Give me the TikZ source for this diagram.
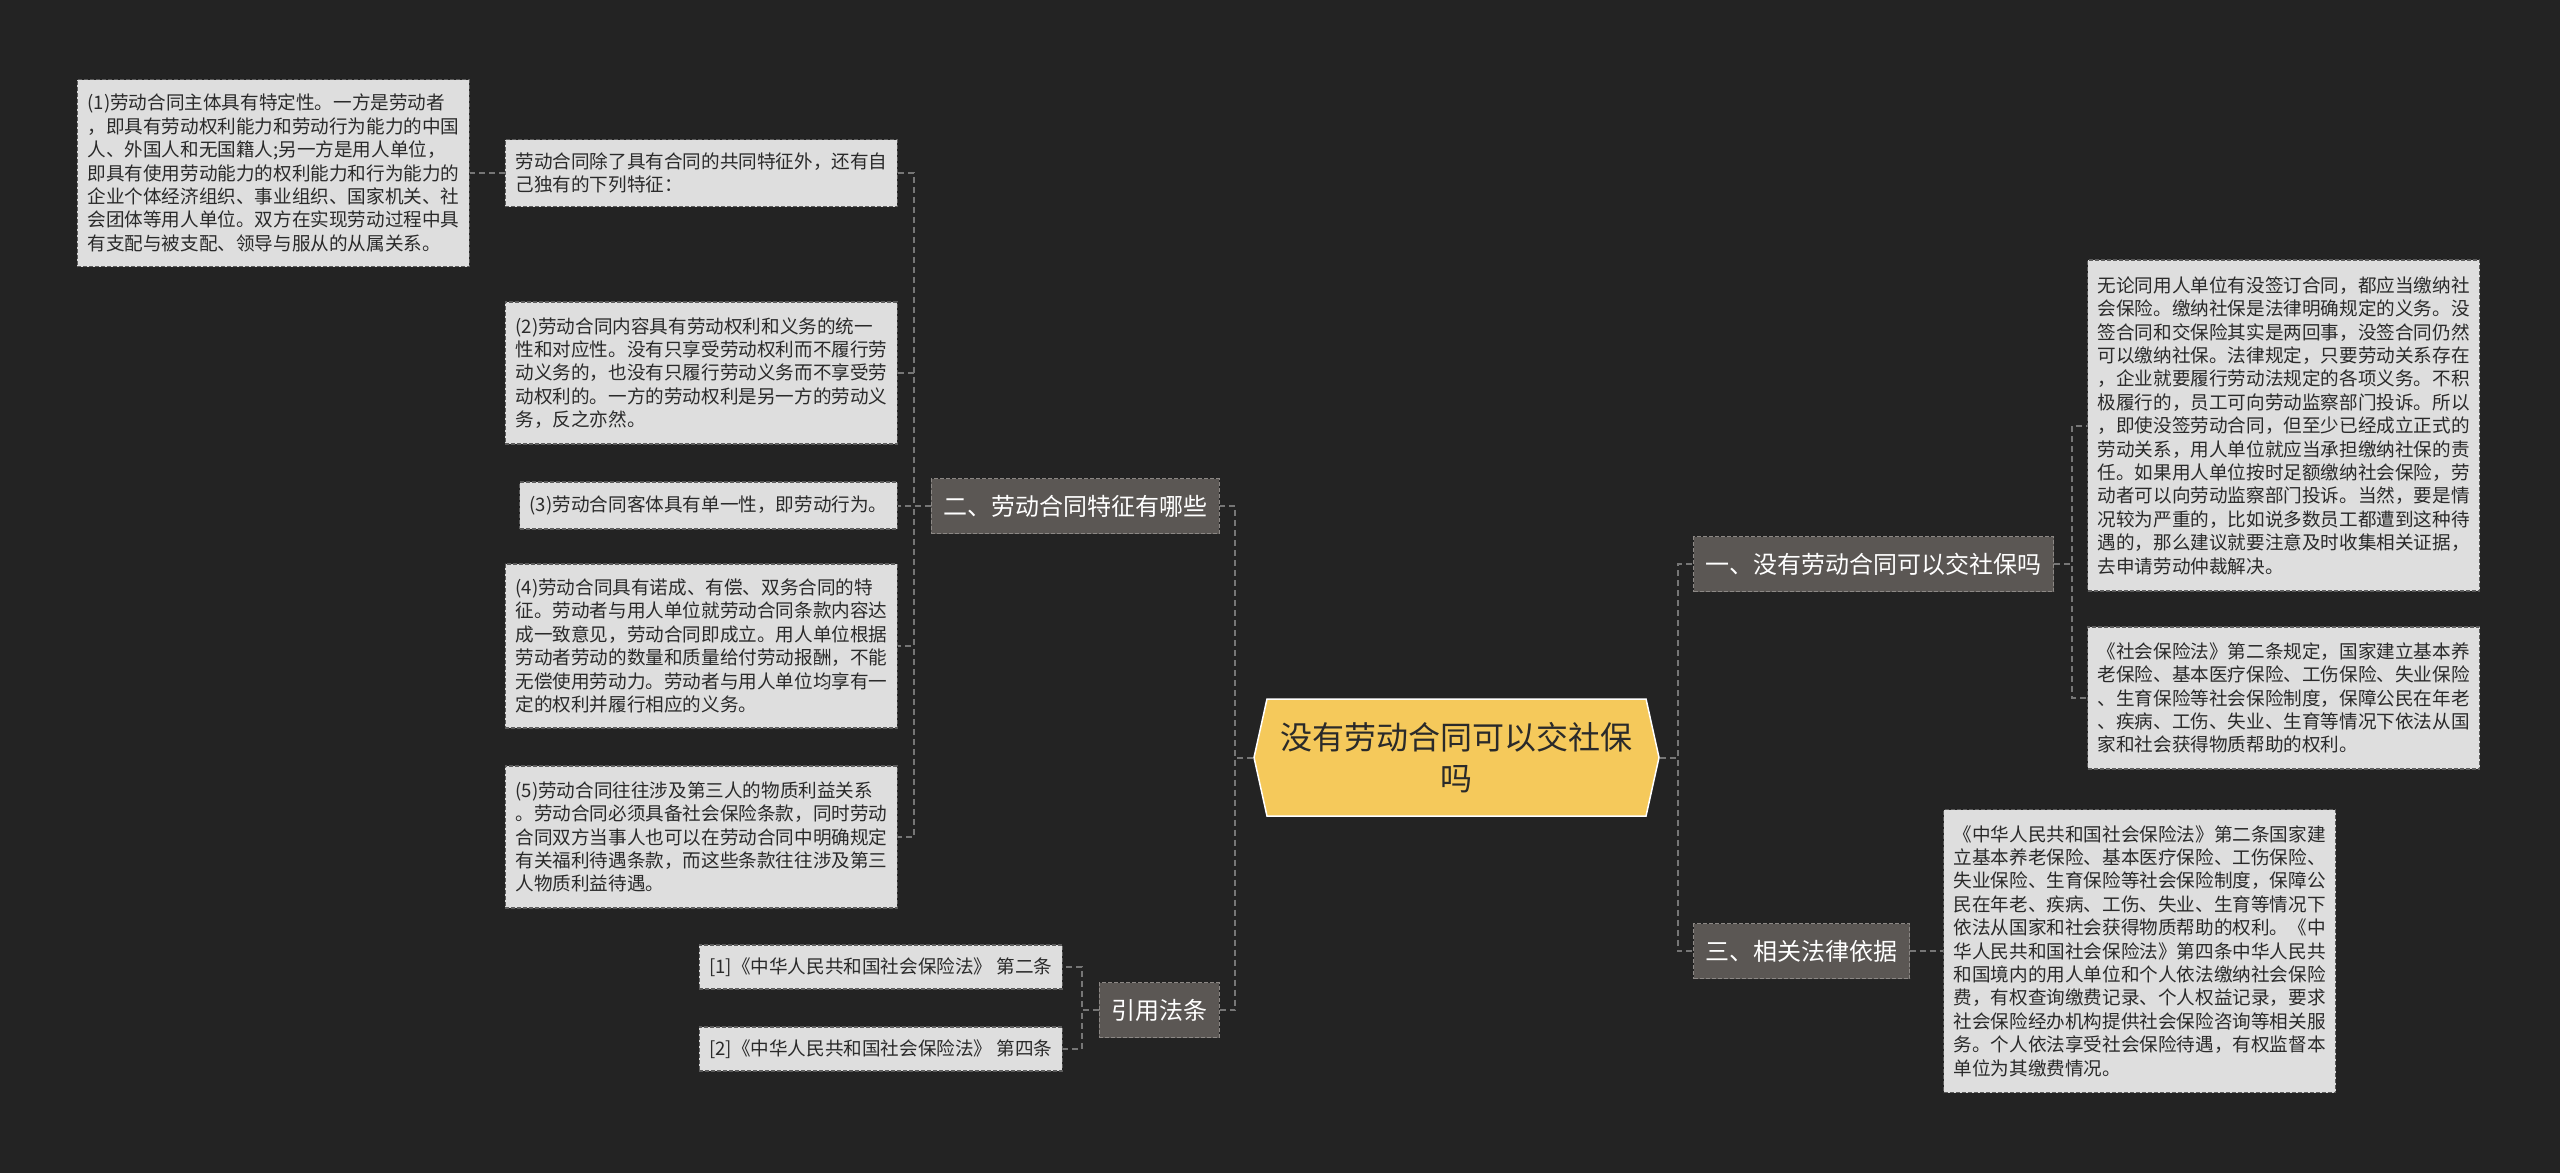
\documentclass[tikz,border=0pt]{standalone}
\usepackage{fontspec}
\setmainfont{Noto Sans CJK SC}
\usepackage{tikz}
\usetikzlibrary{positioning}
\usetikzlibrary{shapes.symbols}

\definecolor{bgdark}{HTML}{232323}
\definecolor{leaffill}{HTML}{DEDEDE}
\definecolor{leafline}{HTML}{5C5C5C}
\definecolor{branchfill}{HTML}{5B5754}
\definecolor{branchline}{HTML}{8C8885}
\definecolor{rootfill}{HTML}{F5C95B}
\definecolor{linkgray}{HTML}{767676}
\definecolor{inkdark}{HTML}{2A2A2A}

\begin{document}
\begin{tikzpicture}[
  x=1pt, y=-1pt,
  root/.style={signal, signal to=east and west, signal pointer angle=155, draw=white, line width=1.5pt, fill=rootfill, text=inkdark, font=\fontsize{32pt}{41pt}\selectfont, align=center, minimum width=405pt, minimum height=117pt, inner sep=0pt},
  branch/.style={rectangle, draw=branchline, fill=branchfill, text=white, dash pattern=on 4pt off 2pt, line width=1.2pt, font=\fontsize{24pt}{30pt}\selectfont, inner xsep=12pt, inner ysep=0pt, minimum height=55pt},
  leafshort/.style={rectangle, draw=leafline, fill=leaffill, text=inkdark, dash pattern=on 4pt off 2pt, line width=1.2pt, font=\fontsize{18.6pt}{23.4pt}\selectfont, inner xsep=10pt, inner ysep=2pt, align=left},
  leaf/.style={leafshort, text width=372pt},
  link/.style={draw=linkgray, line width=2pt, dash pattern=on 6pt off 4pt}
]

% background
\fill[bgdark] (0,0) rectangle (2560,1173);

% root
\node[root] (root) at (1456.5,757.5) {没有劳动合同可以交社保\\吗};

% branches
\node[branch, anchor=east] (b2) at (1220,506) {二、劳动合同特征有哪些};
\node[branch, anchor=east] (b4) at (1220,1010) {引用法条};
\node[branch, anchor=west] (b1) at (1693,564) {一、没有劳动合同可以交社保吗};
\node[branch, anchor=west] (b3) at (1693,951) {三、相关法律依据};

% leaves of b2
\node[leaf, anchor=east, minimum height=67pt] (l0) at (898,173) {劳动合同除了具有合同的共同特征外，还有自\\己独有的下列特征：};
\node[leaf, anchor=east, minimum height=187pt] (l1) at (470,173) {(1)劳动合同主体具有特定性。一方是劳动者\\，即具有劳动权利能力和劳动行为能力的中国\\人、外国人和无国籍人;另一方是用人单位，\\即具有使用劳动能力的权利能力和行为能力的\\企业个体经济组织、事业组织、国家机关、社\\会团体等用人单位。双方在实现劳动过程中具\\有支配与被支配、领导与服从的从属关系。};
\node[leaf, anchor=east, minimum height=142pt] (l2) at (898,373) {(2)劳动合同内容具有劳动权利和义务的统一\\性和对应性。没有只享受劳动权利而不履行劳\\动义务的，也没有只履行劳动义务而不享受劳\\动权利的。一方的劳动权利是另一方的劳动义\\务，反之亦然。};
\node[leafshort, anchor=east, minimum height=47pt] (l3) at (898,505.5) {(3)劳动合同客体具有单一性，即劳动行为。};
\node[leaf, anchor=east, minimum height=164pt] (l4) at (898,646) {(4)劳动合同具有诺成、有偿、双务合同的特\\征。劳动者与用人单位就劳动合同条款内容达\\成一致意见，劳动合同即成立。用人单位根据\\劳动者劳动的数量和质量给付劳动报酬，不能\\无偿使用劳动力。劳动者与用人单位均享有一\\定的权利并履行相应的义务。};
\node[leaf, anchor=east, minimum height=142pt] (l5) at (898,837) {(5)劳动合同往往涉及第三人的物质利益关系\\。劳动合同必须具备社会保险条款，同时劳动\\合同双方当事人也可以在劳动合同中明确规定\\有关福利待遇条款，而这些条款往往涉及第三\\人物质利益待遇。};

% leaves of b4
\node[leafshort, anchor=east, minimum height=44pt] (r1) at (1063,967) {[1]《中华人民共和国社会保险法》 第二条};
\node[leafshort, anchor=east, minimum height=44pt] (r2) at (1063,1049) {[2]《中华人民共和国社会保险法》 第四条};

% leaves of b1
\node[leaf, anchor=west, minimum height=331pt] (a1) at (2087,425.5) {无论同用人单位有没签订合同，都应当缴纳社\\会保险。缴纳社保是法律明确规定的义务。没\\签合同和交保险其实是两回事，没签合同仍然\\可以缴纳社保。法律规定，只要劳动关系存在\\，企业就要履行劳动法规定的各项义务。不积\\极履行的，员工可向劳动监察部门投诉。所以\\，即使没签劳动合同，但至少已经成立正式的\\劳动关系，用人单位就应当承担缴纳社保的责\\任。如果用人单位按时足额缴纳社会保险，劳\\动者可以向劳动监察部门投诉。当然，要是情\\况较为严重的，比如说多数员工都遭到这种待\\遇的，那么建议就要注意及时收集相关证据，\\去申请劳动仲裁解决。};
\node[leaf, anchor=west, minimum height=142pt] (a2) at (2087,698) {《社会保险法》第二条规定，国家建立基本养\\老保险、基本医疗保险、工伤保险、失业保险\\、生育保险等社会保险制度，保障公民在年老\\、疾病、工伤、失业、生育等情况下依法从国\\家和社会获得物质帮助的权利。};

% leaf of b3
\node[leaf, anchor=west, minimum height=283pt] (c1) at (1943,951) {《中华人民共和国社会保险法》第二条国家建\\立基本养老保险、基本医疗保险、工伤保险、\\失业保险、生育保险等社会保险制度，保障公\\民在年老、疾病、工伤、失业、生育等情况下\\依法从国家和社会获得物质帮助的权利。《中\\华人民共和国社会保险法》第四条中华人民共\\和国境内的用人单位和个人依法缴纳社会保险\\费，有权查询缴费记录、个人权益记录，要求\\社会保险经办机构提供社会保险咨询等相关服\\务。个人依法享受社会保险待遇，有权监督本\\单位为其缴费情况。};

% connectors
\draw[link] (root.west) -- ++(-18,0) |- (b2.east);
\draw[link] (root.west) -- ++(-18,0) |- (b4.east);
\draw[link] (root.east) -- ++(18,0) |- (b1.west);
\draw[link] (root.east) -- ++(18,0) |- (b3.west);

\foreach \leafname in {l0,l2,l3,l4,l5}
  \draw[link] (b2.west) -- ++(-17,0) |- (\leafname.east);
\draw[link] (l0.west) -- (l1.east);

\draw[link] (b4.west) -- ++(-17,0) |- (r1.east);
\draw[link] (b4.west) -- ++(-17,0) |- (r2.east);

\draw[link] (b1.east) -- ++(18,0) |- (a1.west);
\draw[link] (b1.east) -- ++(18,0) |- (a2.west);

\draw[link] (b3.east) -- (c1.west);

\end{tikzpicture}
\end{document}
